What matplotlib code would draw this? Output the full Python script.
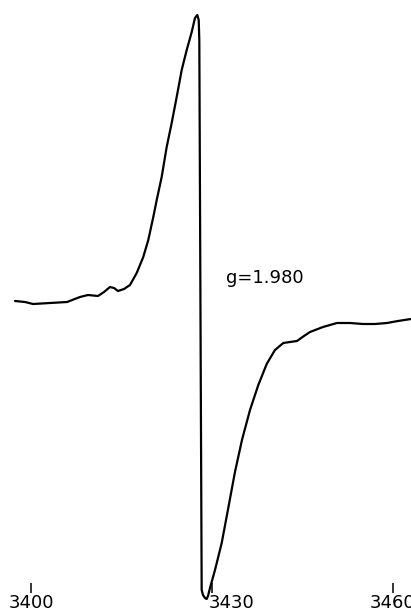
import matplotlib
matplotlib.use("Agg")
import matplotlib.pyplot as plt
import matplotlib.transforms as mtransforms

# Magnetic field (gauss) and first-derivative EPR signal (arbitrary units)
field = [3397.35, 3399.0, 3400.33, 3403.15, 3405.97, 3408.12, 3409.45, 3411.11,
         3412.10, 3413.09, 3413.76, 3414.42, 3415.42, 3416.41, 3417.52, 3418.61,
         3419.44, 3420.27, 3420.84, 3421.66, 3422.49, 3423.32, 3424.15, 3424.98,
         3425.81, 3426.64, 3427.18, 3427.57, 3427.80, 3427.90, 3428.29, 3428.51,
         3428.84, 3429.12, 3429.34, 3429.67, 3430.50, 3431.61, 3432.70, 3433.81,
         3434.97, 3436.30, 3437.68, 3439.07, 3440.44, 3441.82, 3442.93, 3444.09,
         3445.25, 3446.25, 3448.40, 3450.72, 3452.88, 3455.03, 3457.02, 3459.01,
         3460.83, 3462.99]
signal = [-1, -2, -4, -3, -2, 3, 5, 4,
          8, 13, 12, 9, 11, 15, 27, 43,
          60, 83, 100, 123, 153, 177, 203, 230,
          250, 268, 282, 285, 280, 260, -290, -295,
          -298, -299, -296, -288, -270, -243, -208, -172,
          -140, -110, -85, -64, -50, -43, -42, -41,
          -36, -32, -27, -23, -23, -24, -24, -23,
          -21, -19]

tick_values = [3400, 3430, 3460]
tick_labels = ["3400", "3430", "3460"]
g_label = "g=1.980"

fig = plt.figure(figsize=(4.11, 6.13), dpi=100)
ax = fig.add_axes([0.0, 20 / 613, 1.0, 593 / 613])

ax.plot(field, signal, color="black", lw=1.6, clip_on=False,
        solid_joinstyle="round", solid_capstyle="round")

ax.set_xlim(3394.86, 3462.99)
ax.set_ylim(-293, 300)

for side in ("left", "right", "top", "bottom"):
    ax.spines[side].set_visible(False)
ax.set_yticks([])
ax.set_xticks(tick_values)
ax.set_xticklabels(tick_labels, fontsize=13)
ax.tick_params(axis="x", direction="in", length=7.2, width=1.1, pad=1,
               colors="black")

# the middle label sits a little to the right of its tick
lbl = ax.get_xticklabels()[1]
lbl.set_transform(lbl.get_transform() +
                  mtransforms.ScaledTranslation(0.2, 0, fig.dpi_scale_trans))

ax.text(3438.8, 17, g_label, ha="center", va="baseline", fontsize=13)

fig.savefig("out.png", dpi=100, facecolor="white")
